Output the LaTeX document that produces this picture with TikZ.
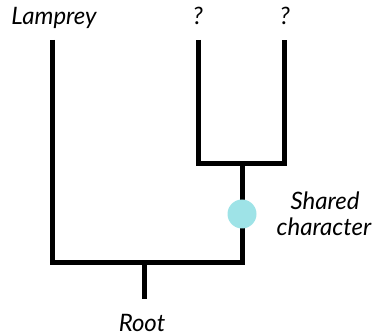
\documentclass[tikz,border=0pt]{standalone}
\usepackage{fontspec}
\setmainfont{Lato}
\definecolor{traitcyan}{RGB}{158,227,231}
\begin{document}
\begin{tikzpicture}[x=1pt,y=-1pt,
  branch/.style={line width=5pt,line join=miter,black},
  taxon/.style={font=\fontsize{24}{26}\selectfont\itshape,inner sep=0pt,anchor=base},
  trait/.style={circle,fill=traitcyan,minimum size=29pt,inner sep=0pt}]
\useasboundingbox (0,0) rectangle (383,336);
% tips and junctions
\coordinate (lt) at (52,40);
\coordinate (q1t) at (198,40);
\coordinate (q2t) at (284,40);
\coordinate (inl) at (198,164);
\coordinate (inr) at (284,164);
\coordinate (inm) at (242,164);
\coordinate (bl) at (52,263);
\coordinate (br) at (242,263);
\coordinate (rt) at (144,263);
\coordinate (rb) at (144,299);
% labels
\node[taxon] (lam) at (54,25) {Lamprey};
\node[taxon] (q1) at (198,25) {?};
\node[taxon] (q2) at (285,25) {?};
\node[taxon] (sc1) at (325,210) {Shared};
\node[taxon] (sc2) at (324,236) {character};
\node[taxon] (root) at (142,332) {Root};
% branches
\draw[branch] (q1t) -- (inl) -- (inr) -- (q2t);
\draw[branch] (lt) -- (bl) -- (br) -- (inm);
\draw[branch] (rt) -- (rb);
% character state change
\node[trait] (ch) at (242,214) {};
\end{tikzpicture}
\end{document}
